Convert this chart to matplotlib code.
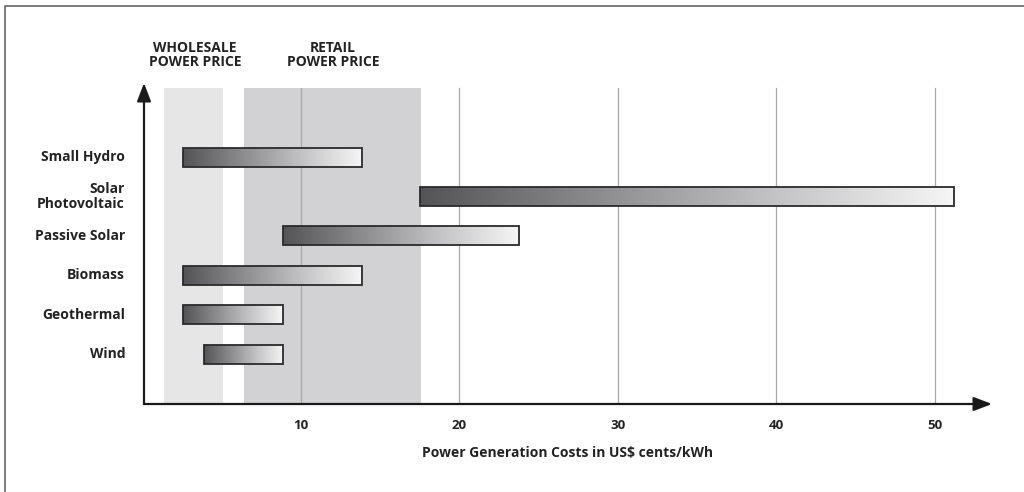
"""
Power generation cost ranges by renewable source, with wholesale and retail price bands.
"""

import numpy as np
import matplotlib
matplotlib.use("Agg")
import matplotlib.pyplot as plt

plt.rcParams["font.family"] = ["Open Sans", "DejaVu Sans"]

# data (US$ cents/kWh)
sources = ["Small Hydro", "Solar\nPhotovoltaic", "Passive Solar", "Biomass", "Geothermal", "Wind"]
cost_low = [2.6, 17.5, 8.9, 2.6, 2.6, 3.9]
cost_high = [13.9, 51.2, 23.8, 13.9, 8.9, 8.9]

wholesale_band = (1.4, 5.1)
retail_band = (6.4, 17.6)

xticks = [10, 20, 30, 40, 50]
xlabel = "Power Generation Costs in US$ cents/kWh"

W, H = 1024, 492
fig = plt.figure(figsize=(W / 100, H / 100), dpi=100)

# axes placed in pixels: x from 142 to 1000, y from 80 (top) to 404 (bottom)
left, right, top, bottom = 142, 1000, 80, 404
ax = fig.add_axes([left / W, 1 - bottom / H, (right - left) / W, (bottom - top) / H])
px_per_unit = (935 - 142) / 50
row_px = 39.4
ax.axis("off")

band_top = -(157 - 88) / row_px
y_bottom = (bottom - 157) / row_px

# price bands
ax.fill_between(wholesale_band, y_bottom, band_top, color="#e6e6e7", lw=0, zorder=0)
ax.fill_between(retail_band, y_bottom, band_top, color="#d2d2d4", lw=0, zorder=0)

# vertical grid lines
for t in xticks:
    ax.plot([t, t], [y_bottom, band_top], color="#a8a8a8", lw=0.9, zorder=1)
    ax.text(t, (bottom + 21 - 157) / row_px, str(t), ha="center", va="center",
            fontsize=9.5, fontweight="bold", color="#222222")

# gradient bars
grad = np.linspace(0, 1, 256).reshape(1, -1)
cmap = matplotlib.colors.LinearSegmentedColormap.from_list(
    "bar", ["#545456", "#8c8c8e", "#c4c4c6", "#f6f6f6"])
bar_h = 19 / row_px
for i, (lo, hi) in enumerate(zip(cost_low, cost_high)):
    ax.imshow(grad, extent=(lo, hi, i + bar_h / 2, i - bar_h / 2), cmap=cmap,
              aspect="auto", interpolation="bicubic", zorder=2)
    ax.add_patch(plt.Rectangle((lo, i - bar_h / 2), hi - lo, bar_h, fill=False,
                               ec="#2a2a2a", lw=1.3, zorder=3))
    ax.text(-17 / px_per_unit, i, sources[i], ha="right", va="center", fontsize=10,
            fontweight="bold", color="#222222", linespacing=1.1)

ax.set_xlim(0, (right - left) / px_per_unit)
ax.set_ylim(y_bottom, -(157 - top) / row_px)

# axis arrows (figure pixel coordinates)
def px(x, y):
    return (x / W, 1 - y / H)

arrow_kw = dict(arrowstyle="-|>,head_length=1.1,head_width=0.42", color="#1a1a1a",
                lw=1.6, shrinkA=0, shrinkB=0, mutation_scale=10)
fig.add_artist(matplotlib.patches.FancyArrowPatch(px(144, 404), px(992, 404),
                                                  transform=fig.transFigure, **arrow_kw))
fig.add_artist(matplotlib.patches.FancyArrowPatch(px(144, 404), px(144, 83),
                                                  transform=fig.transFigure, **arrow_kw))

# header labels
fig.text(*px(195, 55), "WHOLESALE\nPOWER PRICE", ha="center", va="center", fontsize=10,
         fontweight="bold", color="#222222", linespacing=1.0)
fig.text(*px(333, 55), "RETAIL\nPOWER PRICE", ha="center", va="center", fontsize=10,
         fontweight="bold", color="#222222", linespacing=1.0)

# axis title
fig.text(*px(568, 453), xlabel, ha="center", va="center", fontsize=10,
         fontweight="bold", color="#222222")

# frame (left and top edges)
fig.add_artist(plt.Line2D([4.5 / W, 4.5 / W, 1], [0, 1 - 6 / H, 1 - 6 / H],
                          transform=fig.transFigure, color="#666666", lw=1.2))

fig.savefig("out.png", dpi=100, facecolor="white")
